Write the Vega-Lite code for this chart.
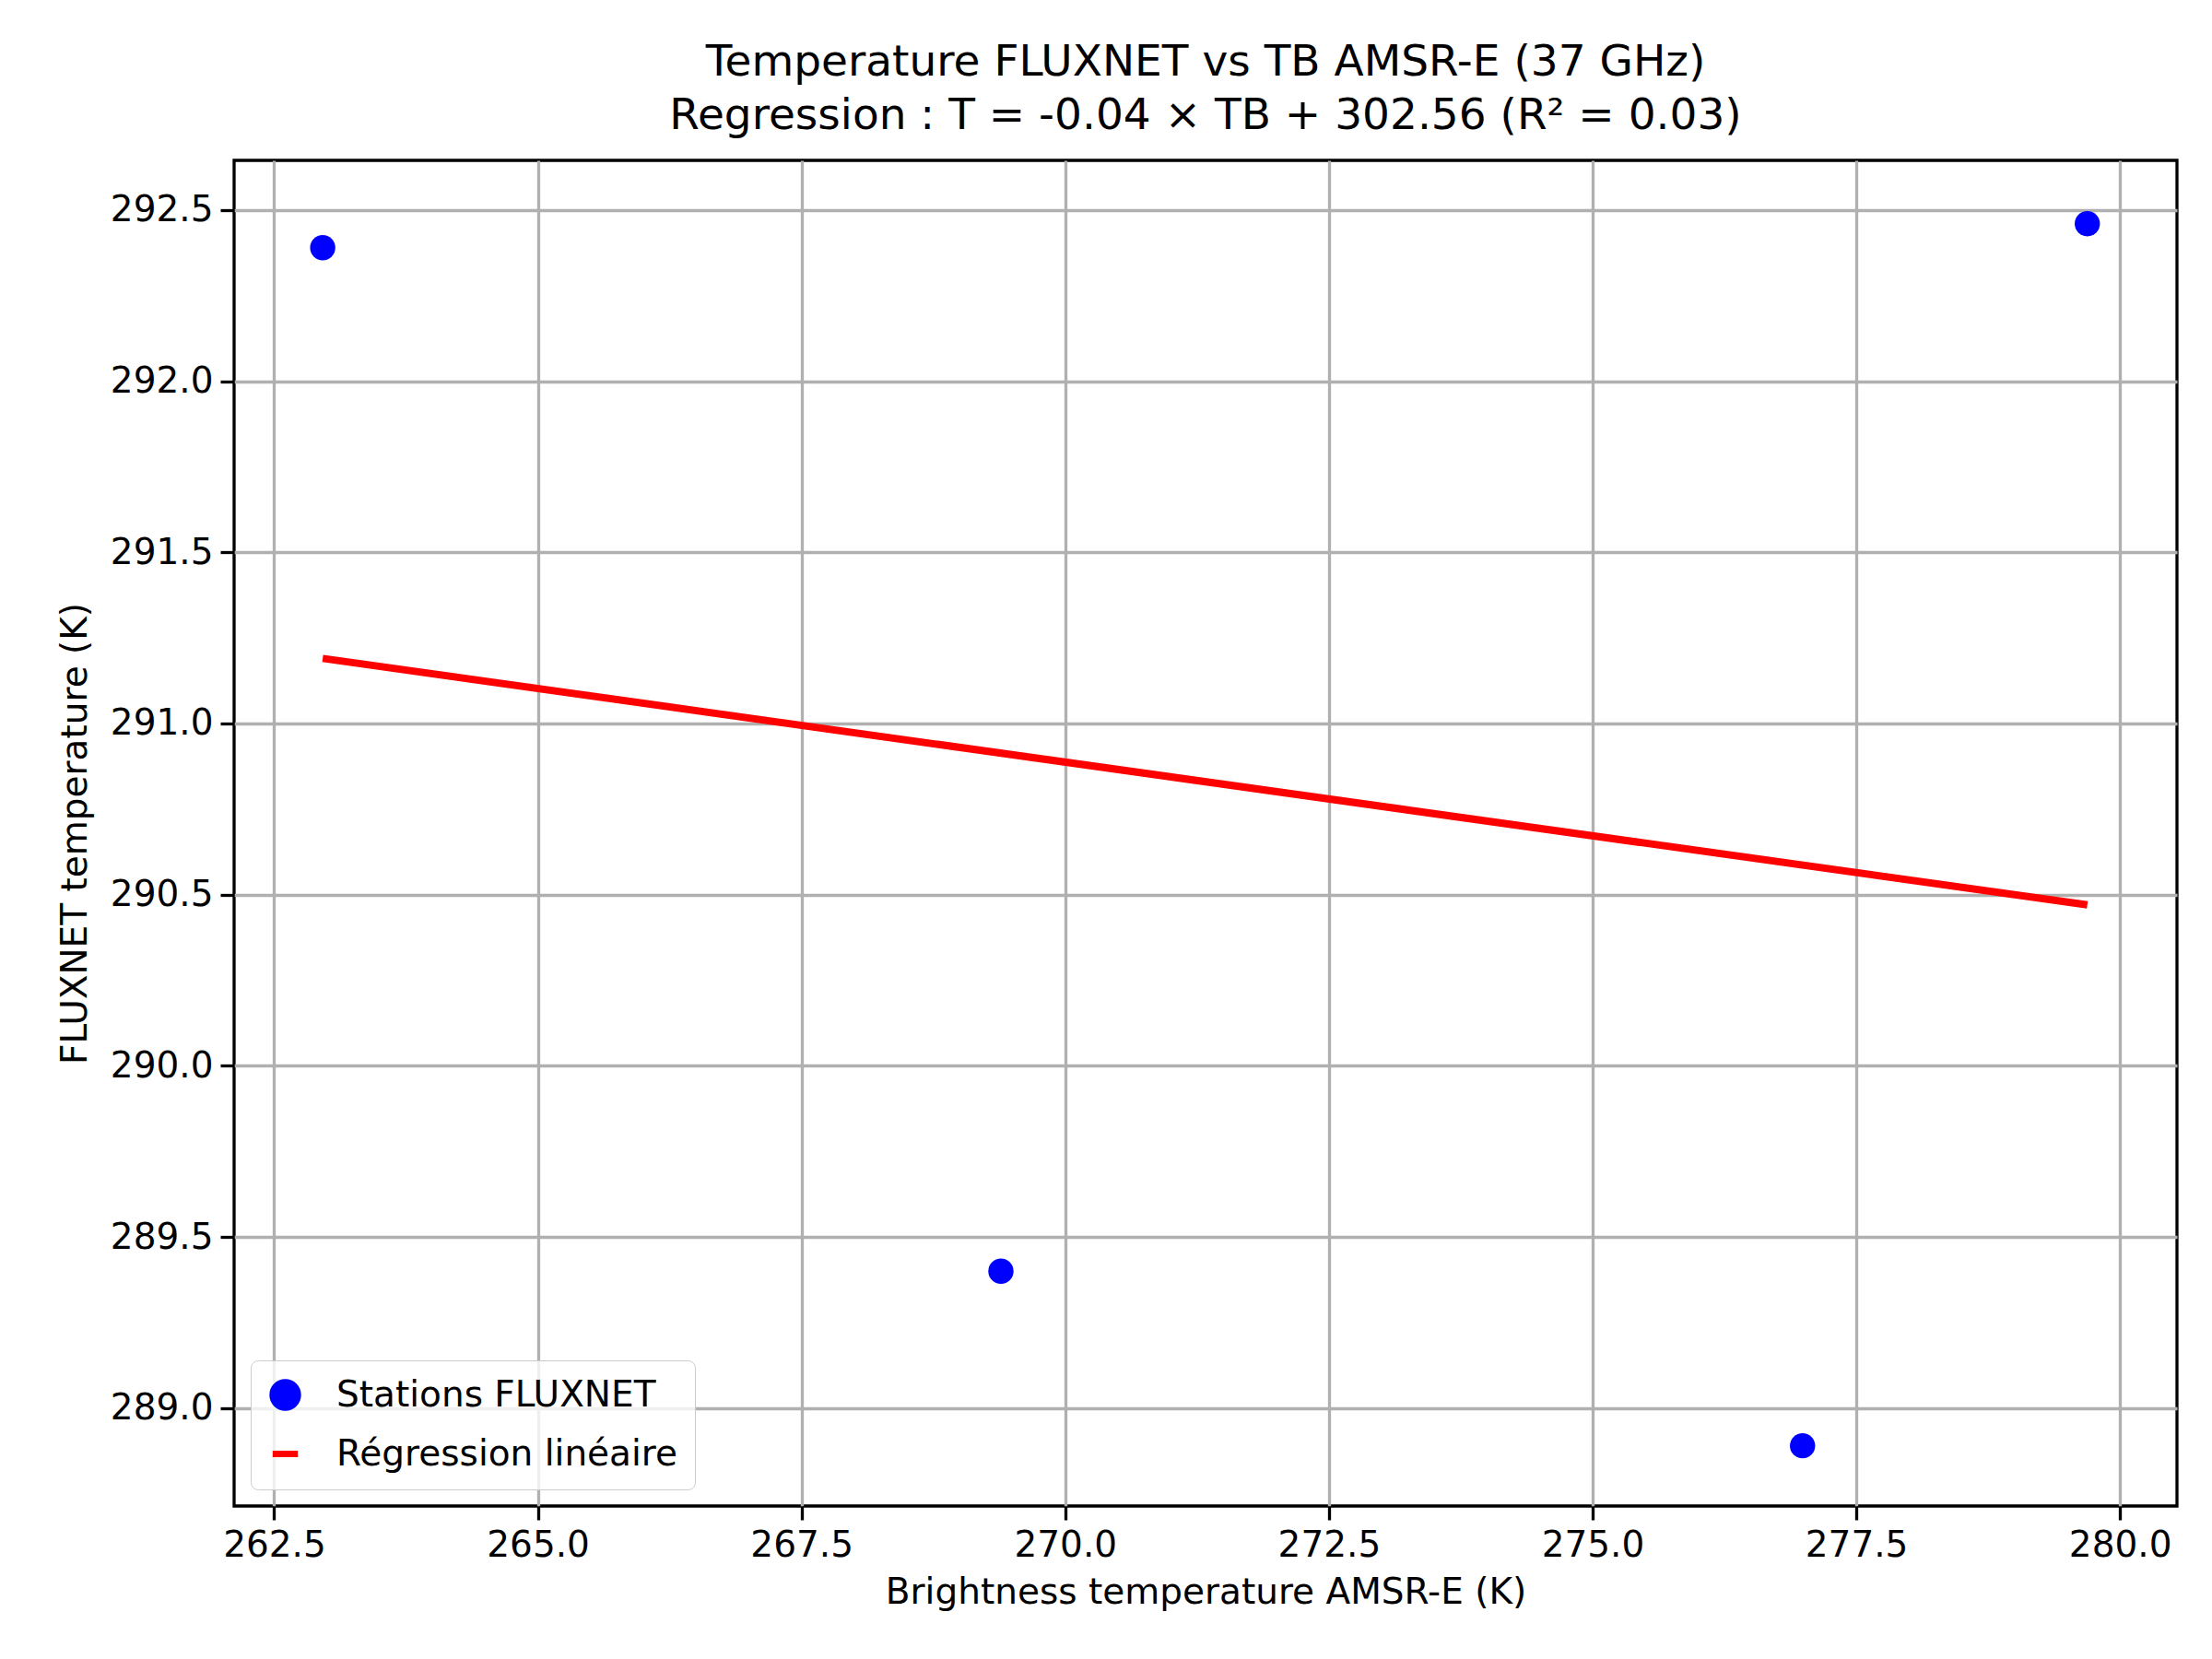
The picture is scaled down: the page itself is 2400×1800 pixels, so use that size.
{
  "$schema": "https://vega.github.io/schema/vega-lite/v6.json",
  "width": 2108,
  "height": 1460,
  "autosize": {"type": "none"},
  "padding": {"left": 254, "top": 174, "right": 38, "bottom": 166},
  "background": "white",
  "title": {
    "text": ["Temperature FLUXNET vs TB AMSR-E (37 GHz)", "Regression : T = -0.04 × TB + 302.56 (R² = 0.03)"],
    "font": "DejaVu Sans", "fontSize": 47, "fontWeight": "normal", "anchor": "middle", "offset": 24, "lineHeight": 58
  },
  "datasets": {
    "stations": [
      {"tb": 262.96, "t": 292.39, "series": "Stations FLUXNET"},
      {"tb": 269.39, "t": 289.40, "series": "Stations FLUXNET"},
      {"tb": 276.99, "t": 288.89, "series": "Stations FLUXNET"},
      {"tb": 279.69, "t": 292.46, "series": "Stations FLUXNET"}
    ],
    "fit": [
      {"tb": 262.96, "t": 291.19, "series": "Régression linéaire"},
      {"tb": 279.69, "t": 290.47, "series": "Régression linéaire"}
    ]
  },
  "layer": [
    {
      "data": {"name": "stations"},
      "mark": {"type": "point", "filled": true, "opacity": 1, "size": 750},
      "encoding": {
        "x": {"field": "tb", "type": "quantitative"},
        "y": {"field": "t", "type": "quantitative"}
      }
    },
    {
      "data": {"name": "fit"},
      "mark": {"type": "line", "strokeWidth": 8},
      "encoding": {
        "x": {"field": "tb", "type": "quantitative"},
        "y": {"field": "t", "type": "quantitative"}
      }
    }
  ],
  "encoding": {
    "x": {
      "field": "tb", "type": "quantitative",
      "scale": {"domain": [262.12, 280.54], "nice": false, "zero": false},
      "axis": {"values": [262.5, 265, 267.5, 270, 272.5, 275, 277.5, 280], "format": ".1f", "title": "Brightness temperature AMSR-E (K)"}
    },
    "y": {
      "field": "t", "type": "quantitative",
      "scale": {"domain": [288.714, 292.645], "nice": false, "zero": false},
      "axis": {"values": [289, 289.5, 290, 290.5, 291, 291.5, 292, 292.5], "format": ".1f", "title": "FLUXNET temperature (K)"}
    },
    "color": {
      "field": "series", "type": "nominal",
      "scale": {"domain": ["Stations FLUXNET", "Régression linéaire"], "range": ["blue", "red"]},
      "legend": {
        "encode": {"symbols": {"update": {"stroke": {"scale": "color", "field": "value"}}}}
      }
    },
    "shape": {
      "field": "series", "type": "nominal",
      "scale": {"domain": ["Stations FLUXNET", "Régression linéaire"], "range": ["circle", "stroke"]}
    }
  },
  "config": {
    "font": "DejaVu Sans",
    "view": {"stroke": "black", "strokeWidth": 3.3},
    "axis": {
      "grid": true, "gridColor": "#b0b0b0", "gridWidth": 3.3,
      "domain": false, "tickColor": "black", "tickWidth": 3.3, "tickSize": 15,
      "labelFontSize": 39, "labelColor": "black", "labelPadding": 8,
      "titleFontSize": 39, "titleFontWeight": "normal", "titleColor": "black"
    },
    "axisX": {"titlePadding": 12},
    "axisY": {"titlePadding": 18},
    "legend": {
      "orient": "bottom-left", "offset": 18, "title": null,
      "labelFontSize": 39, "labelColor": "black", "labelLimit": 800,
      "symbolSize": 750, "symbolStrokeWidth": 7,
      "fillColor": "rgba(255,255,255,0.8)", "strokeColor": "#cccccc", "cornerRadius": 8,
      "padding": 18, "rowPadding": 16, "labelOffset": 36
    }
  }
}
